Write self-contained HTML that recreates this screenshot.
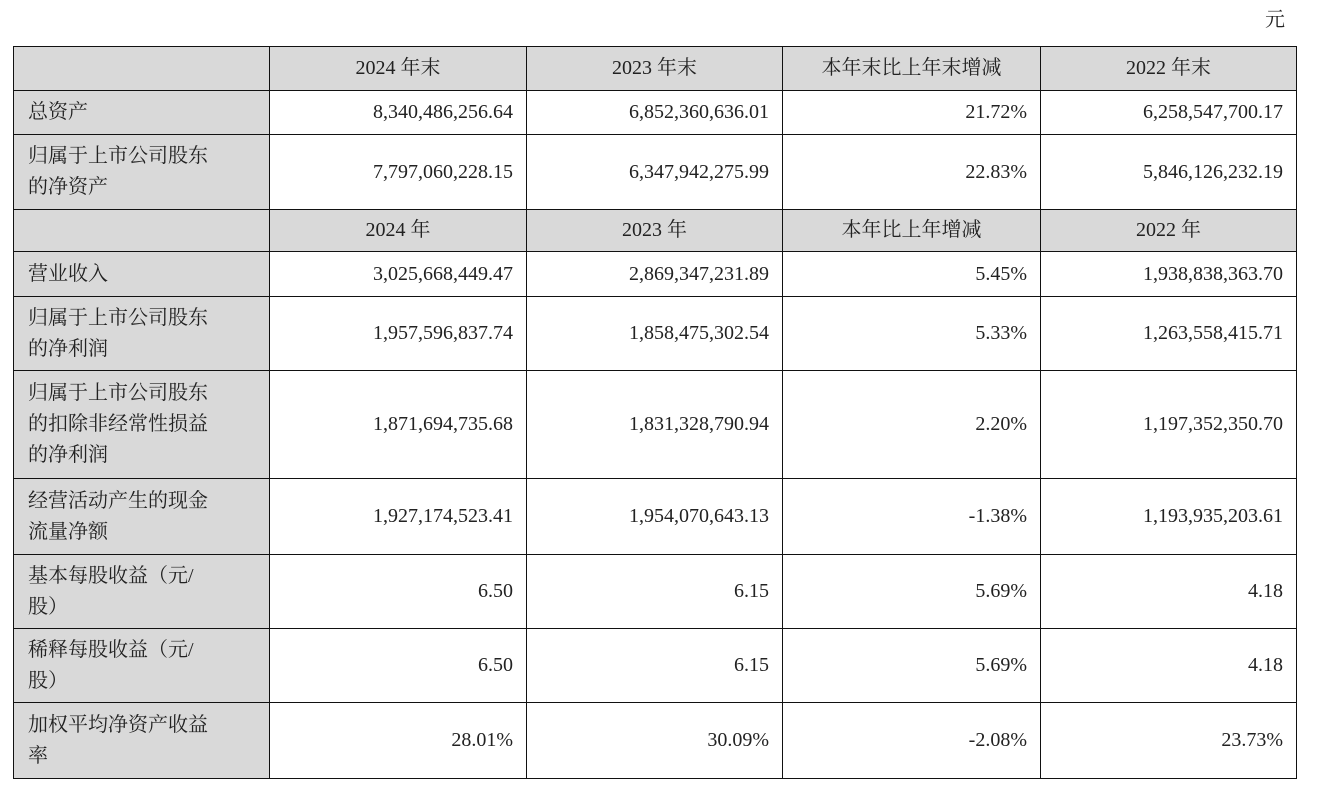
<!DOCTYPE html>
<html><head><meta charset="utf-8">
<style>
html,body{margin:0;padding:0;background:#fff;width:1330px;height:794px;overflow:hidden}
body{font-family:"Liberation Serif","Noto Serif CJK SC",serif;color:#222;font-size:20px;position:relative}
#unit{position:absolute;left:1265px;top:3px;font-size:20px}
table{position:absolute;left:13px;top:46px;border-collapse:collapse;table-layout:fixed}
td{border:1.5px solid #111;padding:0;vertical-align:middle;line-height:31px}
td.lab{background:#d9d9d9;padding-left:14px;text-align:left}
td.num{text-align:right;padding-right:13px}
tr.hd td{background:#d9d9d9;text-align:center}
</style></head><body>
<div id="unit">元</div>
<table>
<colgroup><col style="width:256px"><col style="width:257px"><col style="width:256px"><col style="width:258px"><col style="width:256px"></colgroup>
<tr class="hd" style="height:44px"><td></td><td>2024 年末</td><td>2023 年末</td><td>本年末比上年末增减</td><td>2022 年末</td></tr>
<tr style="height:44px"><td class="lab">总资产</td><td class="num">8,340,486,256.64</td><td class="num">6,852,360,636.01</td><td class="num">21.72%</td><td class="num">6,258,547,700.17</td></tr>
<tr style="height:75px"><td class="lab">归属于上市公司股东<br>的净资产</td><td class="num">7,797,060,228.15</td><td class="num">6,347,942,275.99</td><td class="num">22.83%</td><td class="num">5,846,126,232.19</td></tr>
<tr class="hd" style="height:42px"><td></td><td>2024 年</td><td>2023 年</td><td>本年比上年增减</td><td>2022 年</td></tr>
<tr style="height:45px"><td class="lab">营业收入</td><td class="num">3,025,668,449.47</td><td class="num">2,869,347,231.89</td><td class="num">5.45%</td><td class="num">1,938,838,363.70</td></tr>
<tr style="height:74px"><td class="lab">归属于上市公司股东<br>的净利润</td><td class="num">1,957,596,837.74</td><td class="num">1,858,475,302.54</td><td class="num">5.33%</td><td class="num">1,263,558,415.71</td></tr>
<tr style="height:108px"><td class="lab">归属于上市公司股东<br>的扣除非经常性损益<br>的净利润</td><td class="num">1,871,694,735.68</td><td class="num">1,831,328,790.94</td><td class="num">2.20%</td><td class="num">1,197,352,350.70</td></tr>
<tr style="height:76px"><td class="lab">经营活动产生的现金<br>流量净额</td><td class="num">1,927,174,523.41</td><td class="num">1,954,070,643.13</td><td class="num">-1.38%</td><td class="num">1,193,935,203.61</td></tr>
<tr style="height:74px"><td class="lab">基本每股收益（元/<br>股）</td><td class="num">6.50</td><td class="num">6.15</td><td class="num">5.69%</td><td class="num">4.18</td></tr>
<tr style="height:74px"><td class="lab">稀释每股收益（元/<br>股）</td><td class="num">6.50</td><td class="num">6.15</td><td class="num">5.69%</td><td class="num">4.18</td></tr>
<tr style="height:76px"><td class="lab">加权平均净资产收益<br>率</td><td class="num">28.01%</td><td class="num">30.09%</td><td class="num">-2.08%</td><td class="num">23.73%</td></tr>
</table>
</body></html>
